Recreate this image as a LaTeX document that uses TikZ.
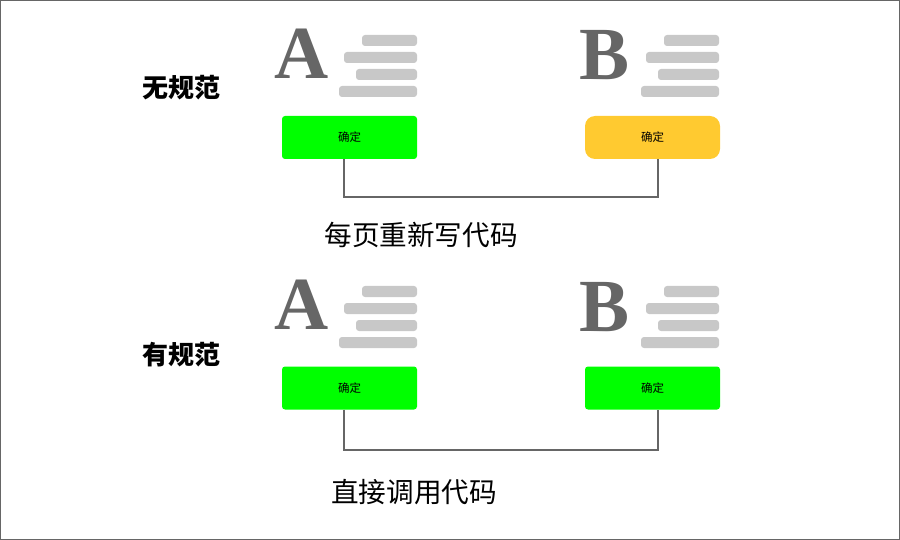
\documentclass[tikz,border=0pt]{standalone}
\usepackage{fontspec}
\setmainfont{Liberation Serif}
\newfontfamily\cjk{Noto Sans CJK SC}
\usetikzlibrary{positioning}

\definecolor{btngreen}{HTML}{00FF00}
\definecolor{btnyellow}{HTML}{FFCA30}
\definecolor{bargray}{HTML}{C8C8C8}
\definecolor{lettergray}{HTML}{666666}
\definecolor{linegray}{HTML}{666666}

\begin{document}
\begin{tikzpicture}[
    x=1pt, y=-1pt,
    letter/.style={font=\fontsize{75}{75}\selectfont\bfseries,
                   text=lettergray, inner sep=0pt, anchor=base},
    bar/.style={fill=bargray, rounded corners=3pt},
    btn/.style={fill=btngreen, rounded corners=3pt, minimum width=135pt,
                minimum height=43pt, inner sep=0pt,
                font=\cjk\fontsize{11.5}{12}\selectfont},
    title/.style={font=\cjk\bfseries\fontsize{26}{27}\selectfont},
    caption/.style={font=\cjk\fontsize{27.6}{28}\selectfont},
    wire/.style={draw=linegray, line width=2pt}
]
\useasboundingbox (0,0) rectangle (900,540);
\draw[linegray, line width=1pt] (0.5,0.5) rectangle (899.5,539.5);

% ── text bars beside the letters ──
\foreach \row in {0,251}
  \foreach \rt in {417,719}
    \foreach \w/\tp in {55/35, 73/52, 61/69, 78/86}
      \fill[bar] (\rt-\w, \tp+\row) rectangle (\rt, \tp+11+\row);

% ── without a standard (top) ──
\node[title] (noStd) at (181,88) {无规范};
\node[letter] (letA) at (302,79) {A};
\node[letter] (letB) at (605,80) {B};
\node[btn] (btnA) at (349.5,137.5) {确定};
\node[btn, fill=btnyellow, rounded corners=10pt] (btnB) at (652.5,137.5) {确定};
\draw[wire] ([xshift=-5.5pt]btnA.south) -- ++(0,38) -| ([xshift=5.5pt]btnB.south);
\node[caption] (rewrite) at (421,235) {每页重新写代码};

% ── with a standard (bottom) ──
\node[title] (withStd) at (181,355) {有规范};
\node[letter] (letA2) at (302,330) {A};
\node[letter] (letB2) at (605,331) {B};
\node[btn] (btnA2) at (349.5,388) {确定};
\node[btn] (btnB2) at (652.5,388) {确定};
\draw[wire] ([xshift=-5.5pt]btnA2.south) -- ++(0,40) -| ([xshift=5.5pt]btnB2.south);
\node[caption] (reuse) at (414,492) {直接调用代码};

\end{tikzpicture}
\end{document}
